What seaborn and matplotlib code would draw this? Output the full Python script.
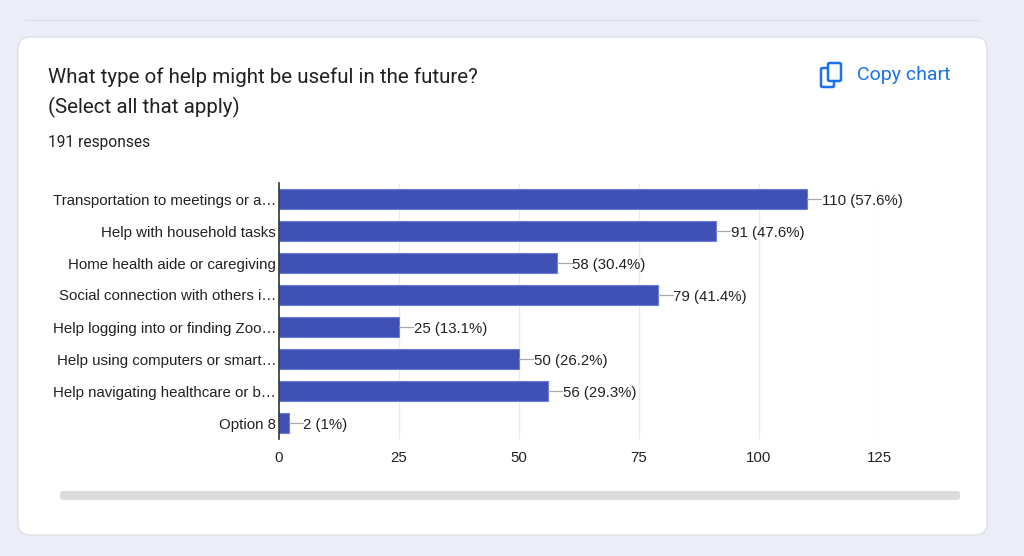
import matplotlib
matplotlib.use("Agg")
import matplotlib.pyplot as plt
from matplotlib.patches import FancyBboxPatch
import seaborn as sns

# values
labels = [
    "Transportation to meetings or a…",
    "Help with household tasks",
    "Home health aide or caregiving",
    "Social connection with others i…",
    "Help logging into or finding Zoo…",
    "Help using computers or smart…",
    "Help navigating healthcare or b…",
    "Option 8",
]
counts = [110, 91, 58, 79, 25, 50, 56, 2]
pcts = ["57.6%", "47.6%", "30.4%", "41.4%", "13.1%", "26.2%", "29.3%", "1%"]
xticks = [0, 25, 50, 75, 100, 125]

sns.set_theme(style="white")
plt.rcParams["font.family"] = ["Liberation Sans", "DejaVu Sans"]

W, H = 1024, 556
fig = plt.figure(figsize=(W / 100, H / 100), dpi=100)
fig.patch.set_facecolor("#eceef7")

# thin separator line at the top + white card
fig.add_artist(plt.Line2D([25 / W, 980 / W], [1 - 20 / H, 1 - 20 / H],
                          color="#dfe1ea", lw=1, transform=fig.transFigure, zorder=-5))
card = FancyBboxPatch((18 / W, 1 - 535 / H), 969 / W, 498 / H,
                      boxstyle="round,pad=0,rounding_size=0.012",
                      transform=fig.transFigure, facecolor="white",
                      edgecolor="#dadce0", lw=0.8, mutation_aspect=W / H, zorder=-5)
fig.add_artist(card)

# header texts
hdr = ["Roboto", "DejaVu Sans"]
fig.text(48 / W, 1 - 77 / H, "What type of help might be useful in the future?",
         fontsize=14.8, color="#202124", va="center", family=hdr)
fig.text(48 / W, 1 - 107 / H, "(Select all that apply)",
         fontsize=14.8, color="#202124", va="center", family=hdr)
fig.text(48 / W, 1 - 143 / H, "191 responses",
         fontsize=11.2, color="#202124", va="center", family=hdr)

# copy chart button
blue = "#1a73e8"
fig.add_artist(FancyBboxPatch((821 / W, 1 - 87 / H), 13 / W, 19 / H,
                              boxstyle="round,pad=0,rounding_size=0.002",
                              transform=fig.transFigure, facecolor="none",
                              edgecolor=blue, lw=1.8))
fig.add_artist(FancyBboxPatch((828 / W, 1 - 81 / H), 13 / W, 18 / H,
                              boxstyle="round,pad=0,rounding_size=0.002",
                              transform=fig.transFigure, facecolor="white",
                              edgecolor=blue, lw=1.8))
fig.text(857 / W, 1 - 75 / H, "Copy chart", fontsize=14, color=blue,
         va="center", family=hdr)

# scroll bar
fig.add_artist(FancyBboxPatch((60 / W, 1 - 500 / H), 900 / W, 9 / H,
                              boxstyle="round,pad=0,rounding_size=0.004",
                              transform=fig.transFigure, facecolor="#dcdcdc",
                              edgecolor="none"))

# bar chart
ax = fig.add_axes([279 / W, 1 - 439 / H, 600 / W, 256 / H])
ax.set_zorder(2)
ax.set_facecolor("none")
sns.barplot(x=counts, y=labels, orient="h", color="#3f51b5", saturation=1,
            width=0.625, edgecolor="#6a7bd8", linewidth=0.8, ax=ax)

# leader line + value label next to each bar
lead = 3.0
for i, (v, p) in enumerate(zip(counts, pcts)):
    ax.plot([v, v + lead], [i, i], color="#a8a8a8", lw=0.9, zorder=1)
    ax.text(v + lead + 0.1, i, f"{v} ({p})", va="center_baseline", ha="left",
            fontsize=10.8, color="#222222")

ax.set_xlim(0, 125)
ax.set_ylim(len(labels) - 0.5, -0.5)
ax.set_xticks(xticks)
ax.set_xticklabels([str(t) for t in xticks])
ax.grid(axis="x", color="#ebebeb", lw=1)
ax.set_axisbelow(True)
for s in ["top", "right", "bottom"]:
    ax.spines[s].set_visible(False)
ax.spines["left"].set_color("#333333")
ax.spines["left"].set_linewidth(1.2)
ax.tick_params(axis="both", length=0, labelsize=10.8, colors="#222222")
ax.tick_params(axis="x", pad=9)
ax.tick_params(axis="y", pad=2)
ax.set_xlabel("")
ax.set_ylabel("")

fig.savefig("out.png", dpi=100, facecolor=fig.get_facecolor())
